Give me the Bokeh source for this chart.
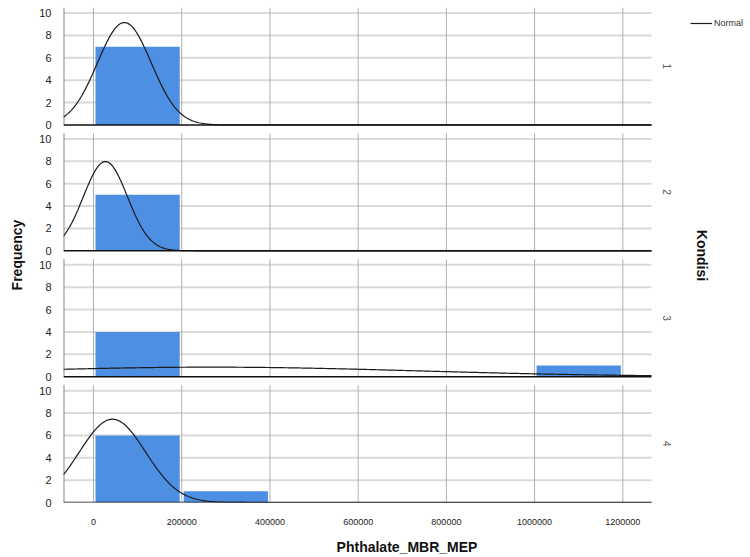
import numpy as np
from math import pi
from bokeh.plotting import figure
from bokeh.models import (Range1d, FixedTicker, Label, Legend, LegendItem,
                          ColumnDataSource)
from bokeh.embed import file_html
from bokeh.resources import INLINE

# ---- data ----
panel_names = ["1", "2", "3", "4"]
bin_width = 200000
bar_panel = ["1", "2", "3", "3", "4", "4"]
bar_start = [0, 0, 0, 1000000, 0, 200000]
bar_count = [7, 5, 4, 1, 6, 1]

norm_mean = [70000, 27000, 268000, 43000]
norm_sd = [61000, 50000, 470000, 75000]
norm_n = [7, 5, 5, 7]

x_ticks = [0, 200000, 400000, 600000, 800000, 1000000, 1200000]
x_tick_labels = ["0", "200000", "400000", "600000", "800000", "1000000", "1200000"]
y_tick_values = [0, 2, 4, 6, 8, 10]

# ---- layout (page coordinates: the figure sits at the page origin) ----
W, H = 750, 557
BL, BT, BB = 63, 7, 55
PANEL_W = 588                     # width of the panels in px
X0, XR = -68000, 1265000          # x extent of the panels
XPX = (XR - X0) / PANEL_W         # data units per px
FW = W - BL                       # frame runs to the right edge
X_END = X0 + FW * XPX
PANEL_TOP = 10.5
PERIOD = 11.25
N = len(panel_names)
Y1 = (N - 1) * PERIOD + PANEL_TOP
FH = H - BT - BB
FONT = "Liberation Sans"

offsets = {name: (N - 1 - i) * PERIOD for i, name in enumerate(panel_names)}


def px_x(page_px):
    return X0 + (page_px - BL) * XPX


def px_y(page_px):
    return (BT + FH - page_px) * Y1 / FH


p = figure(width=W, height=H, x_range=Range1d(X0, X_END), y_range=Range1d(0, Y1),
           output_backend="svg", toolbar_location=None,
           min_border_left=BL, min_border_right=0, min_border_top=BT,
           min_border_bottom=BB)
p.outline_line_color = None
p.background_fill_color = "white"
p.border_fill_color = "white"
p.xgrid.grid_line_color = None
p.ygrid.grid_line_color = None

# y axis: repeated 0..10 per panel
yt = []
yover = {}
for name in panel_names:
    for v in y_tick_values:
        t = offsets[name] + v
        yt.append(t)
        yover[t] = str(v)
p.yaxis.ticker = FixedTicker(ticks=yt)
p.yaxis.major_label_overrides = yover
p.yaxis.axis_line_color = None
p.yaxis.major_tick_line_color = None
p.yaxis.minor_tick_line_color = None
p.yaxis.major_label_standoff = 6
p.yaxis.major_label_text_font = FONT
p.yaxis.major_label_text_font_size = "11px"
p.yaxis.major_label_text_color = "#222222"
p.yaxis.axis_label = "Frequency"
p.yaxis.axis_label_text_font = FONT
p.yaxis.axis_label_text_font_size = "14px"
p.yaxis.axis_label_text_font_style = "bold"
p.yaxis.axis_label_text_color = "#111111"
p.yaxis.axis_label_standoff = 11

# x axis
p.xaxis.ticker = FixedTicker(ticks=x_ticks)
p.xaxis.bounds = (X0, XR)
p.xaxis.major_label_overrides = {t: l for t, l in zip(x_ticks, x_tick_labels)}
p.xaxis.axis_line_color = None
p.xaxis.major_tick_line_color = None
p.xaxis.minor_tick_line_color = None
p.xaxis.major_label_standoff = 10
p.xaxis.major_label_text_font = FONT
p.xaxis.major_label_text_font_size = "9px"
p.xaxis.major_label_text_color = "#222222"
p.xaxis.axis_label = "Phthalate_MBR_MEP"
p.xaxis.axis_label_text_font = FONT
p.xaxis.axis_label_text_font_size = "14px"
p.xaxis.axis_label_text_font_style = "bold"
p.xaxis.axis_label_text_color = "#111111"
p.xaxis.axis_label_standoff = 11

# horizontal grid lines per panel
hy = [offsets[n] + v for n in panel_names for v in y_tick_values if v > 0]
p.segment(x0=[X0] * len(hy), y0=hy, x1=[XR] * len(hy), y1=hy,
          line_color="#dadada", line_width=2)

# vertical grid lines per panel
vx0, vy0, vy1 = [], [], []
for name in panel_names:
    for t in x_ticks:
        vx0.append(t)
        vy0.append(offsets[name])
        vy1.append(offsets[name] + PANEL_TOP)
p.segment(x0=vx0, y0=vy0, x1=vx0, y1=vy1, line_color="#b0b0b0", line_width=1)

# left axis line per panel
p.segment(x0=[X0] * N, y0=[offsets[n] for n in panel_names],
          x1=[X0] * N, y1=[offsets[n] + PANEL_TOP for n in panel_names],
          line_color="#888888", line_width=2)

# bars
bsrc = ColumnDataSource(dict(
    x=[s + bin_width / 2 for s in bar_start],
    bottom=[offsets[n] for n in bar_panel],
    top=[offsets[n] + c for n, c in zip(bar_panel, bar_count)],
))
p.vbar(x="x", width=bin_width * 0.955, bottom="bottom", top="top", source=bsrc,
       fill_color="#4d8fe2", line_color=None)

# normal curves (limited to the panel extent)
xs = np.linspace(X0, XR, 500)
curve_r = None
for name, m, s, n in zip(panel_names, norm_mean, norm_sd, norm_n):
    y = n * bin_width / (s * np.sqrt(2 * pi)) * np.exp(-0.5 * ((xs - m) / s) ** 2)
    r = p.line(xs, y + offsets[name], line_color="#1a1a1a", line_width=1.2)
    if curve_r is None:
        curve_r = r

# black baseline per panel
p.segment(x0=[X0] * N, y0=[offsets[n] for n in panel_names],
          x1=[XR] * N, y1=[offsets[n] for n in panel_names],
          line_color="#111111", line_width=1.5)

# panel labels on the right
for name in panel_names:
    p.add_layout(Label(x=px_x(666), y=offsets[name] + PANEL_TOP / 2, text=name,
                       angle=-pi / 2, text_align="center", text_baseline="middle",
                       text_font=FONT, text_font_size="10px", text_color="#555555"))

p.add_layout(Label(x=px_x(701), y=px_y(255), text="Kondisi", angle=-pi / 2,
                   text_align="center", text_baseline="middle", text_font=FONT,
                   text_font_size="14px", text_font_style="bold",
                   text_color="#111111"))

legend = Legend(items=[LegendItem(label="Normal", renderers=[curve_r])],
                location=(690 - BL, BT + FH - 28),
                padding=0, margin=0, spacing=0,
                glyph_width=22, glyph_height=10, label_height=10,
                label_standoff=2, label_text_font=FONT,
                label_text_font_size="9px", label_text_color="#333333",
                border_line_color=None, background_fill_alpha=0)
p.add_layout(legend, "center")

open("out.html", "w").write(file_html(p, INLINE))
